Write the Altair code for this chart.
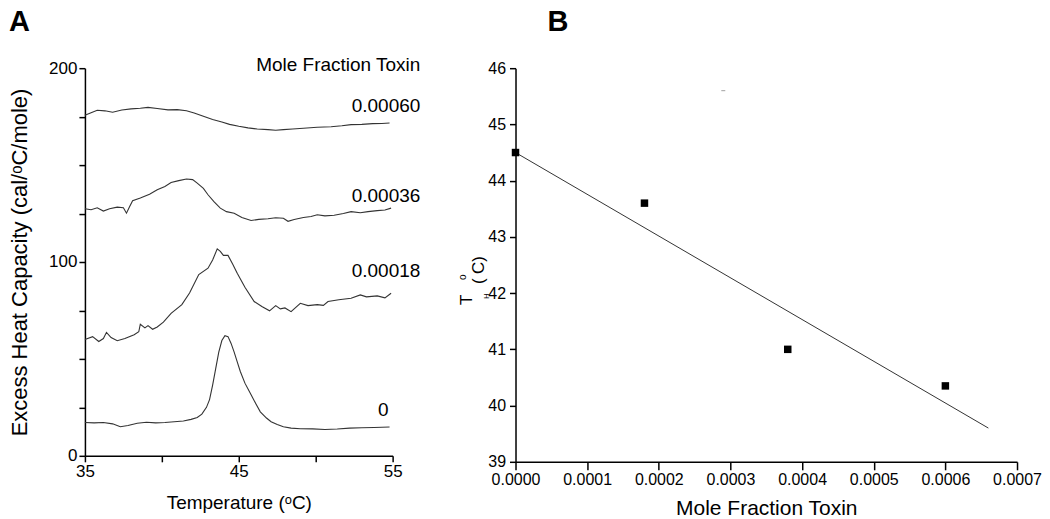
import altair as alt
import pandas as pd

FONT = "Liberation Sans, Arial, sans-serif"

# ---------------- Panel A data (DSC traces) ----------------
t_0 = [35.0, 35.6, 36.2, 36.8, 37.3, 37.8, 38.4, 39.0, 39.6, 40.2, 40.8, 41.4, 41.9, 42.3, 42.6,
       42.9, 43.1, 43.3, 43.5, 43.7, 43.9, 44.1, 44.3, 44.5, 44.7, 44.9, 45.1, 45.4, 45.8, 46.1,
       46.4, 46.8, 47.1, 47.5, 47.9, 48.4, 49.0, 49.8, 50.6, 51.4, 52.2, 53.0, 53.8, 54.8]
cp_0 = [17.2, 17.0, 17.2, 16.5, 15.0, 15.6, 16.8, 17.3, 17.0, 17.2, 17.6, 18.0, 18.8, 19.8, 21.5,
        25.0, 29.0, 36.5, 45.0, 53.5, 59.5, 62.0, 61.5, 58.0, 53.5, 48.5, 43.5, 37.5, 31.5, 27.0,
        22.7, 19.5, 17.6, 16.2, 15.0, 14.3, 14.0, 13.9, 13.6, 13.8, 14.3, 14.5, 14.6, 14.9]

t_18 = [35.0, 35.5, 35.9, 36.2, 36.4, 36.7, 37.1, 37.6, 38.2, 38.5, 38.6, 38.9, 39.1, 39.4, 39.7,
        40.1, 40.6, 41.3, 41.8, 42.4, 43.0, 43.3, 43.6, 43.8, 44.0, 44.3, 44.6, 44.9, 45.4, 46.0,
        46.5, 47.0, 47.4, 47.7, 48.0, 48.4, 49.0, 49.5, 50.1, 50.5, 50.8, 51.5, 52.3, 52.9, 53.3,
        54.0, 54.5, 54.9]
cp_18 = [60.0, 61.5, 59.0, 60.5, 63.7, 61.0, 59.4, 60.5, 62.5, 64.0, 67.9, 66.0, 67.2, 65.3, 66.5,
         69.0, 73.5, 78.0, 84.0, 93.5, 96.8, 101.0, 106.8, 105.5, 103.4, 103.4, 99.0, 94.2, 87.0, 79.6,
         77.0, 74.8, 77.5, 75.8, 76.3, 74.4, 78.7, 77.5, 78.0, 77.6, 79.6, 80.5, 81.3, 83.0, 82.0,
         82.5, 81.5, 83.9]

t_36 = [35.0, 35.4, 35.8, 36.2, 36.6, 37.1, 37.5, 37.7, 37.9, 38.1, 38.6, 39.2, 39.7, 40.2, 40.6,
        41.1, 41.6, 42.0, 42.3, 42.7, 43.0, 43.4, 43.8, 44.2, 44.7, 45.2, 45.8, 46.3, 46.9, 47.4,
        47.9, 48.2, 48.6, 49.2, 49.7, 50.1, 50.6, 51.2, 51.8, 52.3, 52.9, 53.4, 54.0, 54.5, 54.9]
cp_36 = [127.5, 127.0, 128.0, 126.3, 127.5, 128.3, 128.0, 125.2, 128.5, 131.6, 133.0, 135.0, 137.3,
         139.0, 141.0, 142.0, 142.8, 142.5, 140.7, 138.0, 134.7, 131.0, 127.8, 126.0, 125.2, 123.0,
         121.4, 122.0, 122.3, 122.8, 122.6, 121.0, 121.9, 123.0, 123.5, 124.4, 123.8, 124.1, 125.0,
         126.0, 125.4, 126.0, 126.5, 126.8, 127.8]

t_60 = [35.0, 35.4, 35.8, 36.3, 36.8, 37.4, 38.0, 38.6, 39.1, 39.7, 40.4, 41.0, 41.6, 42.1, 42.7,
        43.3, 43.9, 44.4, 45.0, 45.6, 46.2, 46.9, 47.4, 47.9, 48.5, 49.2, 50.1, 51.0, 51.7, 52.3,
        53.0, 53.7, 54.3, 54.8]
cp_60 = [175.7, 177.0, 178.3, 178.0, 177.3, 178.4, 179.0, 179.3, 179.8, 179.2, 178.5, 178.6, 178.0,
         176.9, 175.2, 173.5, 172.2, 171.0, 170.0, 169.2, 168.6, 168.3, 168.0, 168.3, 168.6, 169.0,
         169.5, 169.8, 170.3, 170.9, 171.0, 171.4, 171.5, 171.7]

series_names = ["0", "0.00018", "0.00036", "0.00060"]
series_t = [t_0, t_18, t_36, t_60]
series_cp = [cp_0, cp_18, cp_36, cp_60]

# curve label anchors (data coordinates)
label_text = ["0", "0.00018", "0.00036", "0.00060"]
label_t = [54.4, 56.8, 56.8, 56.8]
label_cp = [23.8, 95.1, 133.8, 180.4]
label_align = ["center", "right", "right", "right"]
header_text = ["Mole Fraction Toxin"]
header_t = [56.8]
header_cp = [201.5]

xA_ticks = [35 + 2.5 * i for i in range(9)]
yA_ticks = [12.5 * i for i in range(17)]

# ---------------- Panel B data ----------------
frac = [0.0, 0.00018, 0.00038, 0.00060]
th = [44.5, 43.6, 41.0, 40.35]
fit_frac = [0.0, 0.00066]
fit_th = [44.5, 39.6]
stray_frac = [0.00029]
stray_th = [45.6]

xB_ticks = [0.00005 * i for i in range(15)]
yB_ticks = [39 + 0.5 * i for i in range(15)]

# ---------------- build frames ----------------
rows = []
for name, ts, cs in zip(series_names, series_t, series_cp):
    for t, c in zip(ts, cs):
        rows.append({"T": t, "Cp": c, "frac": name})
dfA = pd.DataFrame(rows)
dfLab = pd.DataFrame({"T": label_t, "Cp": label_cp, "lab": label_text, "al": label_align})
dfHead = pd.DataFrame({"T": header_t, "Cp": header_cp, "lab": header_text})

axis_common = dict(domainColor="black", tickColor="black", domainWidth=1.5, tickWidth=1.5,
                   labelColor="black", titleColor="black", labelFont=FONT, titleFont=FONT,
                   titleFontWeight="normal", grid=False)

xA_scale = alt.Scale(domain=[35, 55], nice=False, zero=False)
yA_scale = alt.Scale(domain=[0, 200], nice=False, zero=False)

xA = alt.X("T:Q", scale=xA_scale,
           axis=alt.Axis(values=xA_ticks, labelExpr="datum.value % 10 === 5 ? datum.label : ''",
                         format="d", tickSize=6, labelFontSize=17, labelPadding=2,
                         labelFlush=False, labelOverlap=False,
                         title="Temperature (ᵒC)", titleFontSize=19, titlePadding=14, **axis_common))
yA = alt.Y("Cp:Q", scale=yA_scale,
           axis=alt.Axis(values=yA_ticks, labelExpr="datum.value % 100 === 0 ? datum.label : ''",
                         format="d", tickSize=6, labelFontSize=17, labelPadding=2,
                         labelFlush=False, labelOverlap=False,
                         title="Excess Heat Capacity (cal/ᵒC/mole)", titleFontSize=22,
                         titlePadding=17, **axis_common))

linesA = alt.Chart(dfA).mark_line(color="#333333", strokeWidth=1.1).encode(
    x=xA, y=yA, detail="frac:N")

labR = alt.Chart(dfLab).transform_filter("datum.al == 'right'").mark_text(
    align="right", baseline="middle", fontSize=19, font=FONT, color="black").encode(
    x=alt.X("T:Q", scale=xA_scale), y=alt.Y("Cp:Q", scale=yA_scale), text="lab:N")
labC = alt.Chart(dfLab).transform_filter("datum.al == 'center'").mark_text(
    align="center", baseline="middle", fontSize=19, font=FONT, color="black").encode(
    x=alt.X("T:Q", scale=xA_scale), y=alt.Y("Cp:Q", scale=yA_scale), text="lab:N")
head = alt.Chart(dfHead).mark_text(
    align="right", baseline="middle", fontSize=19, font=FONT, color="black").encode(
    x=alt.X("T:Q", scale=xA_scale), y=alt.Y("Cp:Q", scale=yA_scale), text="lab:N")

letterA = alt.Chart(pd.DataFrame({"t": ["A"]})).mark_text(
    align="left", baseline="top", fontSize=29, fontWeight="bold", font=FONT, color="black").encode(
    x=alt.value(-76), y=alt.value(-60), text="t:N")

panelA = alt.layer(linesA, labR, labC, head, letterA).properties(width=308, height=388)

# ---------------- Panel B ----------------
dfB = pd.DataFrame({"f": frac, "th": th})
dfFit = pd.DataFrame({"f": fit_frac, "th": fit_th})
dfStray = pd.DataFrame({"f": stray_frac, "th": stray_th})

xB_scale = alt.Scale(domain=[0, 0.0007], nice=False, zero=False)
yB_scale = alt.Scale(domain=[39, 46], nice=False, zero=False)
major_x = "abs(datum.value*10000 - round(datum.value*10000)) < 1e-6"
major_y = "abs(datum.value - round(datum.value)) < 1e-6"

xB = alt.X("f:Q", scale=xB_scale,
           axis=alt.Axis(values=xB_ticks, format=".4f",
                         labelExpr=major_x + " ? datum.label : ''",
                         tickSize={"condition": {"test": major_x, "value": 8}, "value": 4},
                         labelFontSize=16, labelPadding=2, labelFlush=False, labelOverlap=False,
                         title="Mole Fraction Toxin", titleFontSize=21, titlePadding=10,
                         **axis_common))
yB = alt.Y("th:Q", scale=yB_scale,
           axis=alt.Axis(values=yB_ticks, format="d",
                         labelExpr=major_y + " ? datum.label : ''",
                         tickSize={"condition": {"test": major_y, "value": 6}, "value": 3.5},
                         labelFontSize=16, labelPadding=4, labelFlush=False, labelOverlap=False,
                         title=None, **axis_common))

fit = alt.Chart(dfFit).mark_line(color="#333333", strokeWidth=1).encode(x=xB, y=yB)
pts = alt.Chart(dfB).mark_square(size=56, color="black", opacity=1).encode(
    x=alt.X("f:Q", scale=xB_scale), y=alt.Y("th:Q", scale=yB_scale))
stray = alt.Chart(dfStray).mark_tick(orient="horizontal", size=4, thickness=1, color="#777").encode(
    x=alt.X("f:Q", scale=xB_scale), y=alt.Y("th:Q", scale=yB_scale))

letterB = alt.Chart(pd.DataFrame({"t": ["B"]})).mark_text(
    align="left", baseline="top", fontSize=29, fontWeight="bold", font=FONT, color="black").encode(
    x=alt.value(32), y=alt.value(-60), text="t:N")


def ypiece(txt, size, bx, sy):
    return alt.Chart(pd.DataFrame({"t": [txt]})).mark_text(
        align="left", baseline="alphabetic", angle=270, fontSize=size, font=FONT,
        color="black").encode(x=alt.value(bx), y=alt.value(sy), text="t:N")


ytitle = [
    ypiece("T", 17, -44, 237),
    ypiece("H", 8, -27, 231),
    ypiece("(", 17, -32, 216),
    ypiece("o", 10, -50, 212),
    ypiece("C)", 17, -32, 206),
]

panelB = alt.layer(fit, pts, stray, letterB, *ytitle).properties(width=502, height=394)

chart = alt.hconcat(panelA, panelB, spacing=37).properties(padding=0).configure_view(
    strokeWidth=0).configure_text(font=FONT)

chart.save("out.html", embed_options={"renderer": "svg", "actions": False})
